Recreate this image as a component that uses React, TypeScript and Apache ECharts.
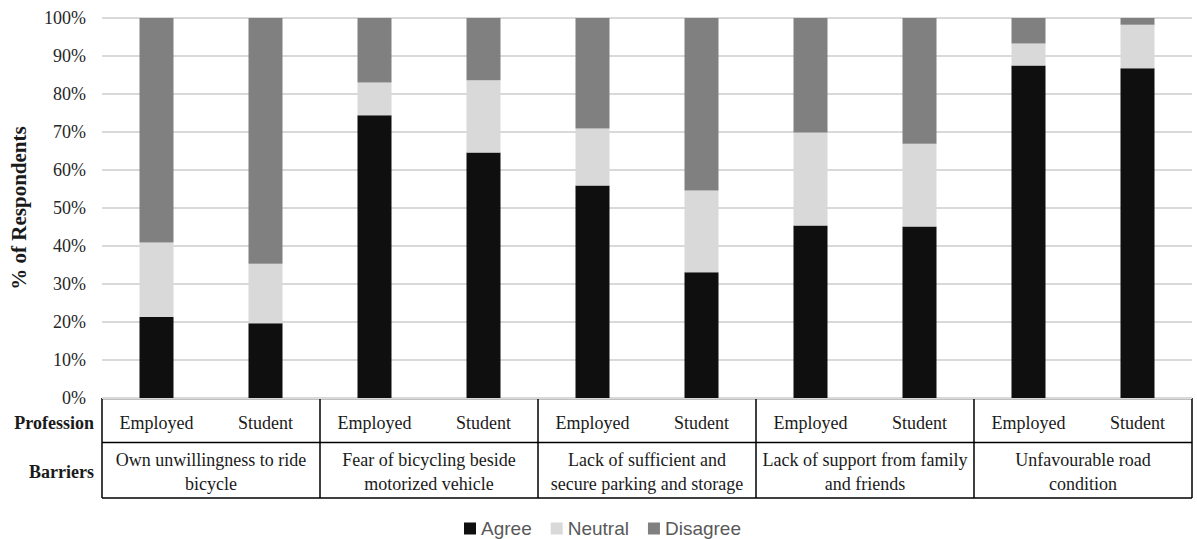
import React, { useEffect, useRef } from "react";
import * as echarts from "echarts";

// Survey: barriers to cycling, by profession (stacked 100% bars)
const professions = ["Employed", "Student"];
const barriers = [
  "Own unwillingness to ride\nbicycle",
  "Fear of bicycling beside\nmotorized vehicle",
  "Lack of sufficient and\nsecure parking and storage",
  "Lack of support from family\nand friends",
  "Unfavourable road\ncondition",
];
const agree = [21.3, 19.7, 74.4, 64.6, 55.9, 33.1, 45.4, 45.1, 87.5, 86.8];
const neutral = [19.6, 15.6, 8.6, 19.0, 15.0, 21.5, 24.5, 21.8, 5.8, 11.4];
const disagree = [59.1, 64.7, 17.0, 16.4, 29.1, 45.4, 30.1, 33.1, 6.7, 1.8];
const yTicks = [0, 10, 20, 30, 40, 50, 60, 70, 80, 90, 100];

const W = 1197;
const H = 539;
const GRID_LEFT = 102;
const GRID_RIGHT = 5;
const GRID_TOP = 18;
const GRID_BOTTOM = 141;

const SERIF = "'Liberation Serif', 'Times New Roman', serif";
const SANS = "'Liberation Sans', Arial, sans-serif";

export default function App() {
  const ref = useRef<HTMLDivElement>(null);

  useEffect(() => {
    document.body.style.margin = "0";
    if (!ref.current) return;
    const chart = echarts.init(ref.current, null, { renderer: "svg" });

    const categories = barriers.flatMap(() => professions);
    const plotLeft = GRID_LEFT;
    const plotRight = W - GRID_RIGHT;
    const axisY = H - GRID_BOTTOM;
    const rowSplit = axisY + 44.5;
    const tableBottom = axisY + 100;
    const groupW = (plotRight - plotLeft) / barriers.length;

    const line = (x1: number, y1: number, x2: number, y2: number) => ({
      type: "line",
      shape: { x1, y1, x2, y2 },
      style: { stroke: "#000", lineWidth: 1.5 },
      silent: true,
    });

    const tableLines: any[] = [
      line(plotLeft, axisY + 0.5, plotRight, axisY + 0.5),
      line(plotLeft, rowSplit, plotRight, rowSplit),
      line(plotLeft, tableBottom, plotRight, tableBottom),
    ];
    for (let i = 0; i <= barriers.length; i++) {
      const x = plotLeft + i * groupW;
      tableLines.push(line(x, axisY, x, tableBottom));
    }

    const rowHeader = (text: string, y: number) => ({
      type: "text",
      x: 94,
      y,
      style: {
        text,
        align: "right",
        verticalAlign: "middle",
        font: `bold 18px ${SERIF}`,
        fill: "#1a1a1a",
      },
    });

    const bar = (name: string, data: number[], color: string) => ({
      name,
      type: "bar",
      stack: "total",
      data,
      barWidth: 34,
      itemStyle: { color },
      emphasis: { disabled: true },
    });

    chart.setOption({
      animation: false,
      grid: {
        left: GRID_LEFT,
        right: GRID_RIGHT,
        top: GRID_TOP,
        bottom: GRID_BOTTOM,
      },
      legend: {
        left: 464,
        top: 519,
        padding: 0,
        itemWidth: 12,
        itemHeight: 12,
        itemGap: 19,
        icon: "rect",
        textStyle: { fontFamily: SANS, fontSize: 19, color: "#595959" },
        data: ["Agree", "Neutral", "Disagree"],
      },
      xAxis: [
        {
          type: "category",
          data: categories,
          position: "bottom",
          axisLine: { show: false },
          axisTick: { show: false },
          axisLabel: {
            margin: 16,
            fontFamily: SERIF,
            fontSize: 18,
            color: "#1a1a1a",
            interval: 0,
          },
        },
        {
          type: "category",
          data: barriers,
          position: "bottom",
          offset: 44,
          axisLine: { show: false },
          axisTick: { show: false },
          axisLabel: {
            margin: 6,
            fontFamily: SERIF,
            fontSize: 18,
            lineHeight: 24,
            color: "#1a1a1a",
            interval: 0,
          },
        },
      ],
      yAxis: {
        type: "value",
        min: yTicks[0],
        max: yTicks[yTicks.length - 1],
        interval: yTicks[1] - yTicks[0],
        name: "% of Respondents",
        nameLocation: "middle",
        nameGap: 73,
        nameTextStyle: {
          fontFamily: SERIF,
          fontSize: 21,
          fontWeight: "bold",
          color: "#1a1a1a",
        },
        axisLine: { show: false },
        axisTick: { show: false },
        axisLabel: {
          formatter: "{value}%",
          margin: 16,
          fontFamily: SERIF,
          fontSize: 18,
          color: "#262626",
        },
        splitLine: { lineStyle: { color: "#d9d9d9", width: 2 } },
      },
      series: [
        bar("Agree", agree, "#0f0f0f"),
        bar("Neutral", neutral, "#d9d9d9"),
        bar("Disagree", disagree, "#808080"),
      ],
      graphic: [
        ...tableLines,
        rowHeader("Profession", axisY + 25),
        rowHeader("Barriers", axisY + 74),
      ],
    });

    return () => chart.dispose();
  }, []);

  return <div ref={ref} style={{ width: W, height: H }} />;
}
